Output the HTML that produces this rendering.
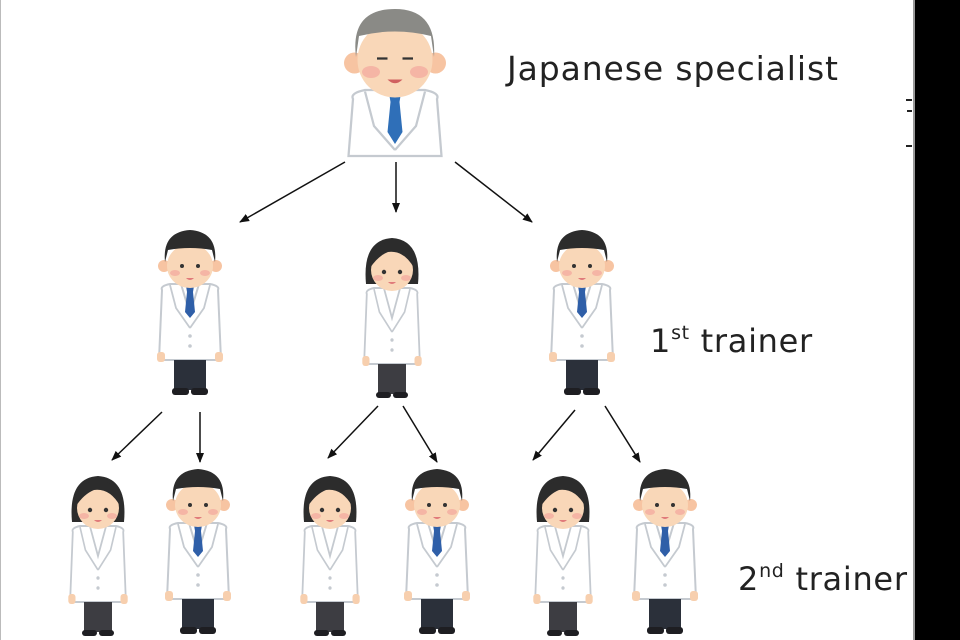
<!DOCTYPE html>
<html><head><meta charset="utf-8"><style>
html,body{margin:0;padding:0;background:#fff;width:960px;height:640px;overflow:hidden}
svg{display:block}
text{font-family:"DejaVu Sans","Liberation Sans",sans-serif;fill:#222}
</style></head><body>
<svg width="960" height="640" viewBox="0 0 960 640" xmlns="http://www.w3.org/2000/svg">
<defs>
<marker id="ah" markerWidth="10" markerHeight="10" refX="9" refY="5" orient="auto" markerUnits="userSpaceOnUse">
<path d="M0,1 L10,5 L0,9 Z" fill="#111"/></marker>
<g id="coat">
<path d="M-28,62 Q-30,58 -20,56 L20,56 Q30,58 28,62 L31,132 L-31,132 Z" fill="#fff" stroke="#c5cad0" stroke-width="2"/>
<path d="M-9,56 L0,86 L9,56" fill="none" stroke="#c5cad0" stroke-width="2"/>
<path d="M-20,57 L-14,80 L0,100 M20,57 L14,80 L0,100" fill="none" stroke="#c5cad0" stroke-width="1.8"/>
<rect x="-33" y="124" width="8" height="10" rx="3" fill="#f7cfae"/>
<rect x="25" y="124" width="8" height="10" rx="3" fill="#f7cfae"/>
<circle cx="0" cy="108" r="1.8" fill="#c5cad0"/><circle cx="0" cy="118" r="1.8" fill="#c5cad0"/>
</g>
<g id="man">
<use href="#coat"/>
<path d="M-4,58 L4,58 L3,64 L5,84 L0,90 L-5,84 L-3,64 Z" fill="#2f5fa8"/>
<rect x="-16" y="132" width="32" height="30" fill="#2b303a"/>
<rect x="-18" y="160" width="17" height="7" rx="3" fill="#1e1e22"/><rect x="1" y="160" width="17" height="7" rx="3" fill="#1e1e22"/>
<circle cx="-26" cy="38" r="6" fill="#f7c4a2"/><circle cx="26" cy="38" r="6" fill="#f7c4a2"/>
<ellipse cx="0" cy="38" rx="23" ry="22" fill="#f9d7b8"/>
<path d="M-25,34 Q-28,4 0,2 Q28,4 25,34 L22,22 Q0,18 -22,22 Z" fill="#2c2c2c"/>
<circle cx="-8" cy="38" r="2" fill="#333"/><circle cx="8" cy="38" r="2" fill="#333"/>
<ellipse cx="-15" cy="45" rx="5" ry="3" fill="#f5b5a5"/><ellipse cx="15" cy="45" rx="5" ry="3" fill="#f5b5a5"/>
<path d="M-4,50 Q0,54 4,50" fill="#e07a7a"/>
</g>
<g id="woman">
<use href="#coat" transform="scale(0.9,1)"/>
<rect x="-14" y="132" width="28" height="30" fill="#3d3d42"/>
<rect x="-16" y="160" width="15" height="6" rx="3" fill="#1e1e22"/><rect x="1" y="160" width="15" height="6" rx="3" fill="#1e1e22"/>
<path d="M-26,52 Q-30,8 0,6 Q30,8 26,52 Z" fill="#2c2c2c"/>
<ellipse cx="0" cy="38" rx="21" ry="21" fill="#f9d7b8"/>
<path d="M-22,36 Q-22,12 0,10 Q22,12 22,36 Q12,18 -4,20 Q-14,24 -22,36 Z" fill="#2c2c2c"/>
<circle cx="-8" cy="40" r="2.2" fill="#333"/><circle cx="8" cy="40" r="2.2" fill="#333"/>
<ellipse cx="-14" cy="46" rx="5" ry="3" fill="#f5b5a5"/><ellipse cx="14" cy="46" rx="5" ry="3" fill="#f5b5a5"/>
<path d="M-4,50 Q0,54 4,50" fill="#e07a7a"/>
</g>
</defs>
<rect x="0" y="0" width="1" height="640" fill="#bbb"/>
<rect x="915" y="0" width="45" height="640" fill="#000"/>
<rect x="913" y="0" width="2" height="640" fill="#999"/>
<rect x="906" y="99" width="6" height="2" fill="#222"/><rect x="907" y="110" width="5" height="2" fill="#222"/><rect x="906" y="145" width="6" height="2" fill="#222"/>

<g transform="translate(395,6) scale(1.5)">
<path d="M-28,62 Q-30,58 -20,56 L20,56 Q30,58 28,62 L31,100 L-31,100 Z" fill="#fff" stroke="#c5cad0" stroke-width="1.5"/>
<path d="M-20,57 L-14,80 L0,96 M20,57 L14,80 L0,96" fill="none" stroke="#c5cad0" stroke-width="1.5"/>
<path d="M-4,58 L4,58 L3,64 L5,84 L0,92 L-5,84 L-3,64 Z" fill="#2f6fb8"/>
<circle cx="-27" cy="38" r="7" fill="#f7c4a2"/><circle cx="27" cy="38" r="7" fill="#f7c4a2"/>
<ellipse cx="0" cy="36" rx="25" ry="25" fill="#f9d7b8"/>
<path d="M-26,34 Q-30,2 0,2 Q28,2 26,34 L24,20 Q0,14 -24,20 Z" fill="#8a8a86"/>
<path d="M-12,35 L-5,35 M5,35 L12,35" stroke="#333" stroke-width="1.5"/>
<ellipse cx="-16" cy="44" rx="6" ry="4" fill="#f5b5a5"/><ellipse cx="16" cy="44" rx="6" ry="4" fill="#f5b5a5"/>
<path d="M-5,49 Q0,54 5,49" fill="#d06060"/>
</g>

<use href="#man" x="190" y="228"/>
<use href="#woman" x="392" y="232"/>
<use href="#man" x="582" y="228"/>

<use href="#woman" x="98" y="470"/>
<use href="#man" x="198" y="467"/>
<use href="#woman" x="330" y="470"/>
<use href="#man" x="437" y="467"/>
<use href="#woman" x="563" y="470"/>
<use href="#man" x="665" y="467"/>

<g stroke="#111" stroke-width="1.5" marker-end="url(#ah)">
<line x1="345" y1="162" x2="240" y2="222"/>
<line x1="396" y1="162" x2="396" y2="212"/>
<line x1="455" y1="162" x2="532" y2="222"/>
<line x1="162" y1="412" x2="112" y2="460"/>
<line x1="200" y1="412" x2="200" y2="462"/>
<line x1="378" y1="406" x2="328" y2="458"/>
<line x1="403" y1="406" x2="437" y2="462"/>
<line x1="575" y1="410" x2="533" y2="460"/>
<line x1="605" y1="406" x2="640" y2="462"/>
</g>

<text x="507" y="80" font-size="33" letter-spacing="0.9">Japanese specialist</text>
<text x="650" y="352" font-size="32" letter-spacing="0.7">1<tspan font-size="19" dy="-13">st</tspan><tspan dy="13"> trainer</tspan></text>
<text x="738" y="590" font-size="32" letter-spacing="0.7">2<tspan font-size="19" dy="-13">nd</tspan><tspan dy="13"> trainer</tspan></text>
</svg>
</body></html>
